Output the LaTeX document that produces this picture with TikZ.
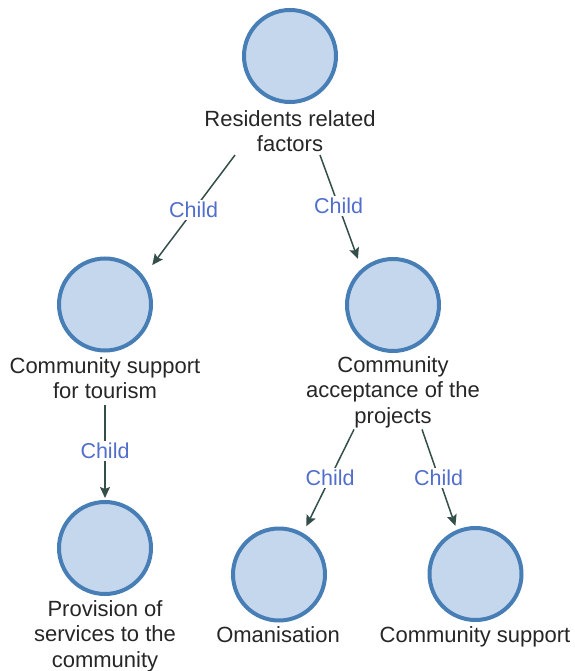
\documentclass[tikz,border=0pt]{standalone}
\usepackage{fontspec}
\setmainfont{Liberation Sans}
\usetikzlibrary{arrows.meta}
\definecolor{discfill}{RGB}{197,215,236}
\definecolor{discline}{RGB}{72,126,182}
\definecolor{edgecol}{RGB}{52,78,74}
\definecolor{lblcol}{RGB}{82,110,205}
\begin{document}
\begin{tikzpicture}[x=1pt,y=-1pt,
  disc/.style={circle,draw=discline,fill=discfill,line width=4pt,minimum size=92pt,inner sep=0pt},
  caption/.style={anchor=north,inner sep=0pt,align=center,font=\fontsize{22}{25.5}\selectfont,text=black!85},
  edge/.style={draw=edgecol,line width=1.5pt,-{Stealth[length=11pt,width=10pt,inset=2pt]}},
  lbl/.style={fill=white,inner sep=2pt,text=lblcol,font=\fontsize{21.5}{24}\selectfont}]
\useasboundingbox (0,0) rectangle (574,671);
% tree nodes
\node[disc] (cA) at (290,56) {};
\node[caption] (tA) at (290,110) {Residents related\\factors};
\node[disc] (cB) at (105,304.5) {};
\node[caption] (tB) at (105,357) {Community support\\for tourism};
\node[disc] (cC) at (393,305) {};
\node[caption] (tC) at (393,356) {Community\\acceptance of the\\projects};
\node[disc] (cD) at (105,548) {};
\node[caption] (tD) at (105,600) {Provision of\\services to the\\community};
\node[disc] (cE) at (279,574.5) {};
\node[caption] (tE) at (278,626) {Omanisation};
\node[disc] (cF) at (475.5,574) {};
\node[caption] (tF) at (475,626) {Community support};
% parent-child links
\draw[edge,shorten >=14pt] ([xshift=-55pt,yshift=-3pt]tA.south) -- node[lbl,pos=0.454]{Child} (cB.36);
\draw[edge,shorten >=10.5pt] ([xshift=30pt,yshift=-3pt]tA.south) -- node[lbl,pos=0.448]{Child} (cC.131);
\draw[edge,shorten >=2pt] ([yshift=-6pt]tB.south) -- node[lbl,pos=0.485]{Child} (cD.north);
\draw[edge,shorten >=7.4pt] ([xshift=-39pt,yshift=-1.5pt]tC.south) -- node[lbl,pos=0.469]{Child} (cE.60.5);
\draw[edge,shorten >=4.2pt] ([xshift=29pt,yshift=-1.5pt]tC.south) -- node[lbl,pos=0.48]{Child} (cF.113.6);
\end{tikzpicture}
\end{document}
